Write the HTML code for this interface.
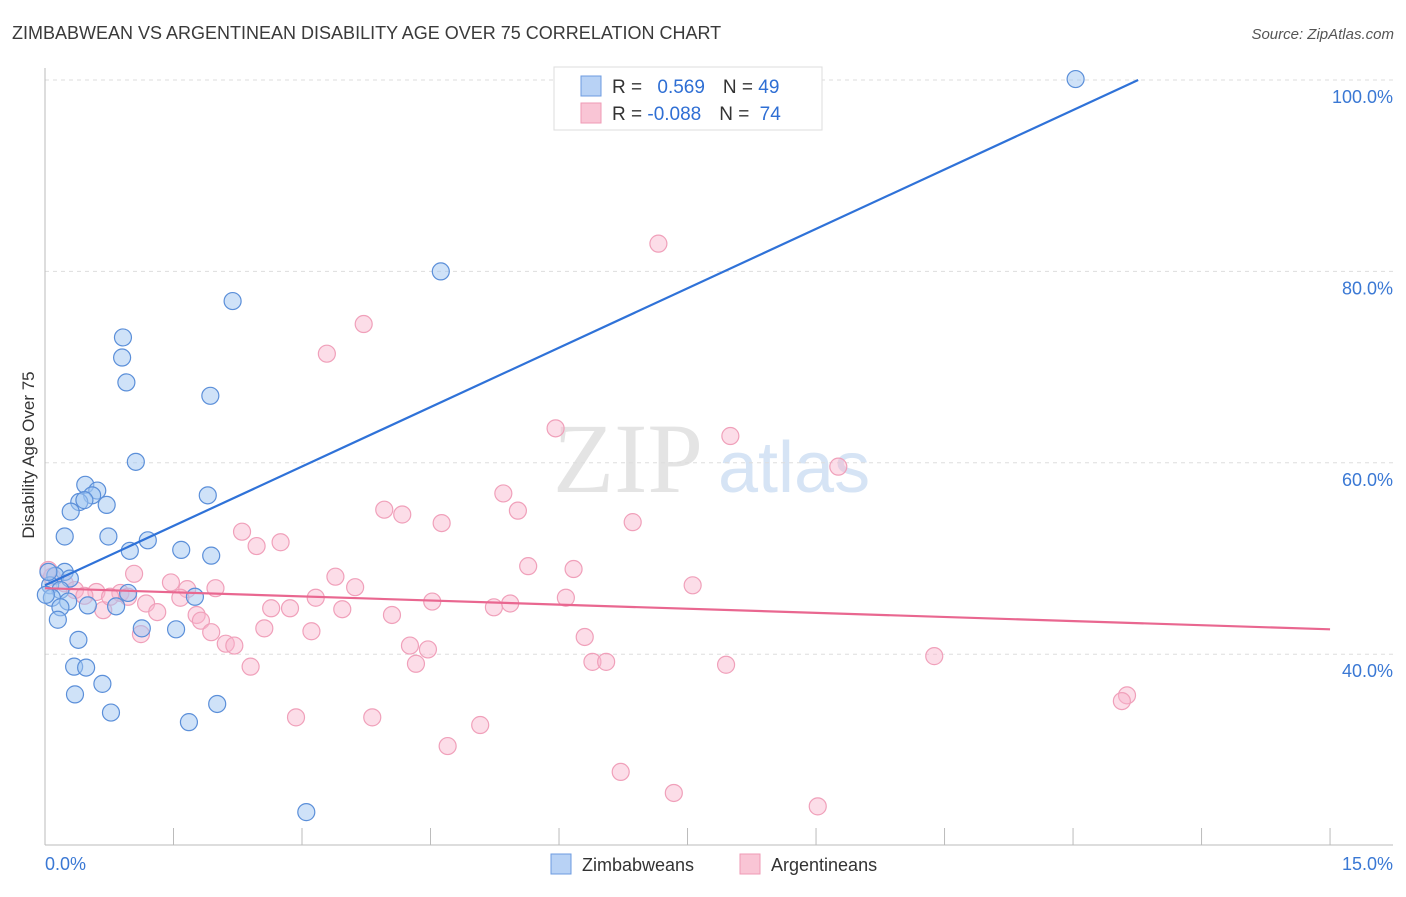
<!DOCTYPE html>
<html><head><meta charset="utf-8"><style>
body{margin:0;background:#fff;font-family:"Liberation Sans",sans-serif;}
svg text{font-family:"Liberation Sans",sans-serif;}
</style></head><body>
<svg id="chart" width="1406" height="892">
<text x="12" y="39" font-size="18" fill="#3a3a3a">ZIMBABWEAN VS ARGENTINEAN DISABILITY AGE OVER 75 CORRELATION CHART</text>
<text x="1394" y="39" font-size="15" fill="#555" font-style="italic" text-anchor="end">Source: ZipAtlas.com</text>
<text x="553" y="492" font-size="100" fill="#e4e4e4" style="font-family:'Liberation Serif',serif">ZIP</text>
<text x="718" y="492" font-size="72" fill="#d6e4f5">atlas</text>
<g id="grid"></g>
<g id="axes"></g>
<g id="pts"></g>
<g id="lines"></g>
<text x="34" y="455" font-size="17" fill="#333" text-anchor="middle" transform="rotate(-90 34 455)">Disability Age Over 75</text>
<g>
<rect x="554" y="67" width="268" height="63" fill="#fff" stroke="#ddd"/>
<rect x="581" y="76" width="20" height="20" fill="#b8d2f5" stroke="#6d9be0"/>
<rect x="581" y="103" width="20" height="20" fill="#f9c5d5" stroke="#ef9ab5"/>
<text x="612" y="93" font-size="19" fill="#333">R = <tspan fill="#2f6fd4" dx="10">0.569</tspan><tspan fill="#333" dx="18">N = </tspan><tspan fill="#2f6fd4">49</tspan></text>
<text x="612" y="120" font-size="19" fill="#333">R = <tspan fill="#2f6fd4">-0.088</tspan><tspan fill="#333" dx="18">N = </tspan><tspan fill="#2f6fd4" dx="5">74</tspan></text>
</g>
<g>
<rect x="551" y="854" width="20" height="20" fill="#b8d2f5" stroke="#6d9be0"/>
<text x="582" y="871" font-size="18" fill="#333">Zimbabweans</text>
<rect x="740" y="854" width="20" height="20" fill="#f9c5d5" stroke="#ef9ab5"/>
<text x="771" y="871" font-size="18" fill="#333">Argentineans</text>
</g>
</svg>
<script>
const yTicks=[100,80,60,40];
const yTickLabels=["100.0%","80.0%","60.0%","40.0%"];
const xEndLabels=["0.0%","15.0%"];
const blueX=[12.03,4.62,2.19,0.91,0.90,0.95,1.93,1.06,1.90,0.47,0.61,0.55,0.40,0.46,0.72,0.30,0.23,0.74,1.20,0.99,1.59,1.94,0.23,0.12,0.29,0.06,0.18,0.97,1.75,0.08,0.27,0.50,0.83,0.18,0.15,1.13,1.53,0.39,0.34,0.48,0.67,0.35,2.01,0.77,1.68,3.05,0.04,0.01];
const blueY=[100.1,80.0,76.9,73.1,71.0,68.4,67.0,60.1,56.6,57.7,57.1,56.6,55.9,56.1,55.6,54.9,52.3,52.3,51.9,50.8,50.9,50.3,48.6,48.2,47.9,47.2,46.7,46.4,46.0,45.9,45.5,45.1,45.0,44.9,43.6,42.7,42.6,41.5,38.7,38.6,36.9,35.8,34.8,33.9,32.9,23.5,48.6,46.2];
const pinkX=[7.16,3.72,3.29,5.96,8.00,9.26,5.35,3.96,4.17,5.52,4.63,6.86,2.30,2.75,2.47,5.64,6.17,1.04,3.39,7.56,1.47,3.62,1.66,1.99,0.60,0.88,3.16,1.58,6.08,4.52,1.18,2.64,2.86,5.24,5.43,3.47,1.31,0.68,4.05,1.77,1.82,2.56,1.94,3.11,1.12,6.30,4.26,4.47,2.11,2.21,10.38,6.39,6.55,4.33,7.95,2.40,12.63,12.57,2.93,3.82,5.08,4.70,6.72,7.34,9.02,0.08,0.04,0.23,0.35,0.46,0.76,0.97];
const pinkY=[82.9,74.5,71.4,63.6,62.8,59.6,56.8,55.1,54.6,55.0,53.7,53.8,52.8,51.7,51.3,49.2,48.9,48.4,48.1,47.2,47.5,47.0,46.8,46.9,46.5,46.4,45.9,45.9,45.9,45.5,45.3,44.8,44.8,44.9,45.3,44.7,44.4,44.6,44.1,44.1,43.5,42.7,42.3,42.4,42.1,41.8,40.9,40.5,41.1,40.9,39.8,39.2,39.2,39.0,38.9,38.7,35.7,35.1,33.4,33.4,32.6,30.4,27.7,25.5,24.1,48.1,48.8,47.4,46.7,46.1,46.0,46.0];
const blueTrend=[47.2,100];
const blueTrendX=[0,12.76];
const pinkTrend=[46.9,42.6];
const pinkTrendX=[0,15];
const X=v=>45+v*85.67, Y=v=>80+(100-v)*9.57;
const NS="http://www.w3.org/2000/svg";
function mk(tag,attrs,parent){const e=document.createElementNS(NS,tag);for(const k in attrs)e.setAttribute(k,attrs[k]);document.getElementById(parent).appendChild(e);return e;}
yTicks.forEach((t,i)=>{
  const g=mk('line',{x1:45,x2:1393,y1:Y(t),y2:Y(t),stroke:'#ddd','stroke-dasharray':'4,4'},'grid');
  
  
  const l=mk('text',{x:1393,y:Y(t)+23,'font-size':18,fill:'#3a78d4','text-anchor':'end'},'grid');
  l.textContent=yTickLabels[i];
  
  
});
const ax=mk('line',{x1:45,x2:45,y1:68,y2:845,stroke:'#bbb'},'axes');


const bx=mk('line',{x1:45,x2:1393,y1:845,y2:845,stroke:'#bbb'},'axes');


for(let i=1;i<=10;i++){
  const t=mk('line',{x1:X(i*1.5),x2:X(i*1.5),y1:828,y2:845,stroke:'#bbb'},'axes');
  
  
}
const xl0=mk('text',{x:45,y:870,'font-size':18,fill:'#3a78d4'},'axes');xl0.textContent=xEndLabels[0];


const xl1=mk('text',{x:1393,y:870,'font-size':18,fill:'#3a78d4','text-anchor':'end'},'axes');xl1.textContent=xEndLabels[1];


pinkX.forEach((v,i)=>{
  const c=mk('circle',{cx:X(v),cy:Y(pinkY[i]),r:8.5,fill:'rgba(248,180,203,0.45)',stroke:'#f0a0ba','stroke-width':1.2},'pts');
  
  
});
blueX.forEach((v,i)=>{
  const c=mk('circle',{cx:X(v),cy:Y(blueY[i]),r:8.5,fill:'rgba(160,198,242,0.5)',stroke:'#5b8fd9','stroke-width':1.2},'pts');
  
  
});
const bl=mk('line',{x1:X(blueTrendX[0]),y1:Y(blueTrend[0]),x2:X(blueTrendX[1]),y2:Y(blueTrend[1]),stroke:'#2f72d8','stroke-width':2.2},'lines');


const pl=mk('line',{x1:X(pinkTrendX[0]),y1:Y(pinkTrend[0]),x2:X(pinkTrendX[1]),y2:Y(pinkTrend[1]),stroke:'#e96790','stroke-width':2.2},'lines');


</script>
</body></html>
